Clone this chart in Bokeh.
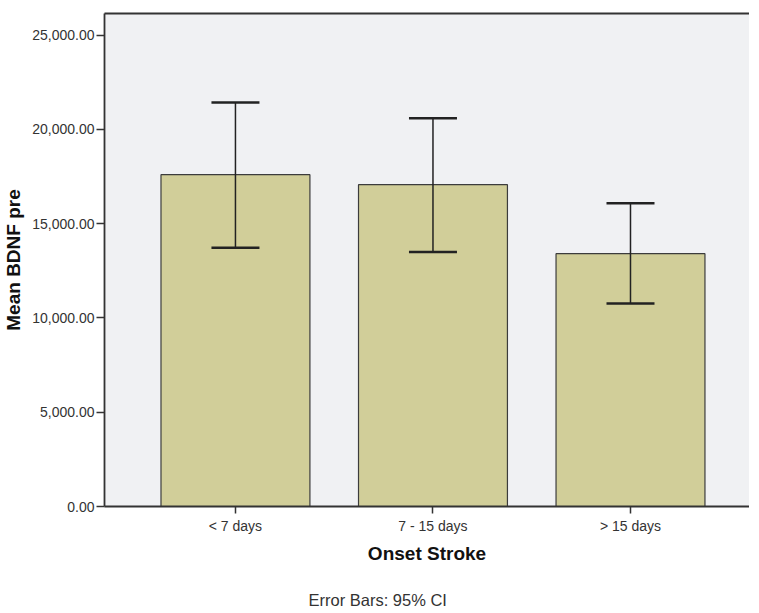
from bokeh.plotting import figure
from bokeh.models import (ColumnDataSource, Range1d, FixedTicker, NumeralTickFormatter,
                          Whisker, TeeHead, LinearAxis, Title)
from bokeh.embed import file_html
from bokeh.resources import INLINE

categories = ["< 7 days", "7 - 15 days", "> 15 days"]
mean_bdnf = [17600, 17070, 13410]
ci_upper = [21430, 20600, 16090]
ci_lower = [13730, 13500, 10770]
y_ticks = [0, 5000, 10000, 15000, 20000, 25000]

xpos = [i + 0.5 for i in range(len(categories))]
src = ColumnDataSource(dict(x=xpos, cat=categories, top=mean_bdnf, upper=ci_upper, lower=ci_lower))

FONT = "Liberation Sans"

p = figure(frame_width=645, frame_height=493, output_backend="svg", toolbar_location=None,
           x_range=Range1d(-0.163, 3.1025), y_range=Range1d(0, 26150),
           min_border_left=98, min_border_right=0, min_border_top=13, min_border_bottom=105)
p.background_fill_color = "#f0f1f3"
p.border_fill_color = "white"
p.outline_line_color = None
p.grid.visible = False

p.vbar(x="x", top="top", width=0.754, bottom=0, source=src,
       fill_color="#d1ce99", line_color="#3c3c3c", line_width=1.2)

w = Whisker(base="x", upper="upper", lower="lower", source=src, level="overlay",
            line_color="#222222", line_width=1.5,
            upper_head=TeeHead(size=48, line_color="#222222", line_width=2.5),
            lower_head=TeeHead(size=48, line_color="#222222", line_width=2.5))
p.add_layout(w)

# y axis
ya = p.yaxis[0]
ya.ticker = FixedTicker(ticks=y_ticks)
ya.formatter = NumeralTickFormatter(format="0,0.00")
ya.minor_tick_line_color = None
ya.major_tick_in = 0
ya.major_tick_out = 8
ya.major_tick_line_width = 1.5
ya.major_tick_line_color = "#333333"
ya.axis_line_color = "#333333"
ya.axis_line_width = 1.8
ya.major_label_text_font = FONT
ya.major_label_text_font_size = "14px"
ya.major_label_text_color = "#333333"
ya.major_label_standoff = 2
ya.axis_label = "Mean BDNF pre"
ya.axis_label_text_font = FONT
ya.axis_label_text_font_size = "19px"
ya.axis_label_text_font_style = "bold"
ya.axis_label_text_color = "#111111"
ya.axis_label_standoff = 5

# x axis
xa = p.xaxis[0]
xa.ticker = FixedTicker(ticks=xpos)
xa.major_label_overrides = {x: c for x, c in zip(xpos, categories)}
xa.minor_tick_line_color = None
xa.major_tick_in = 0
xa.major_tick_out = 7
xa.major_tick_line_width = 1.5
xa.major_tick_line_color = "#333333"
xa.axis_line_color = "#333333"
xa.axis_line_width = 1.8
xa.major_label_text_font = FONT
xa.major_label_text_font_size = "14px"
xa.major_label_text_color = "#333333"
xa.major_label_standoff = 4
xa.axis_label = "Onset Stroke"
xa.axis_label_text_font = FONT
xa.axis_label_text_font_size = "19px"
xa.axis_label_text_font_style = "bold"
xa.axis_label_text_color = "#111111"
xa.axis_label_standoff = 6

# top frame line
top = LinearAxis(ticker=FixedTicker(ticks=[]), major_tick_line_color=None,
                 minor_tick_line_color=None, axis_line_color="#333333",
                 axis_line_width=1.8, major_label_standoff=0)
p.add_layout(top, "above")

foot = Title(text="Error Bars: 95% CI", align="left", offset=204, standoff=44,
             text_font=FONT, text_font_size="16.5px", text_font_style="normal",
             text_color="#333333")
p.add_layout(foot, "below")

open("out.html", "w").write(file_html(p, INLINE))
